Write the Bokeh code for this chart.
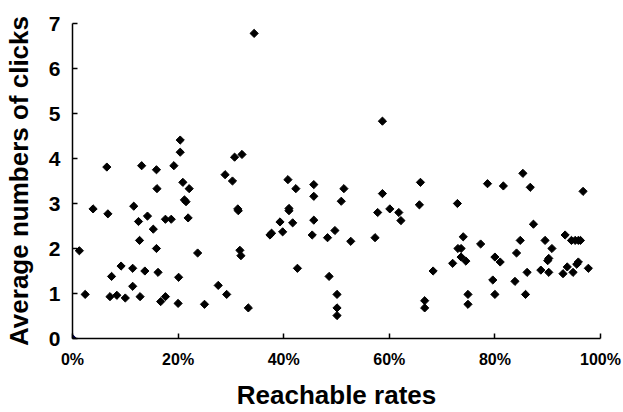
import numpy as np
from bokeh.plotting import figure
from bokeh.models import Range1d, FixedTicker, ColumnDataSource
from bokeh.embed import file_html
from bokeh.resources import INLINE

# Reachable rate (%) and average number of clicks
reach = [
    0.0, 1.3, 2.4, 3.9, 6.5, 6.7, 7.1, 7.4, 8.4, 9.2, 10.0, 11.4, 11.4, 11.6,
    12.5, 12.7, 12.8, 13.1, 13.7, 14.2, 15.3, 15.9, 15.9, 16.0, 16.2, 16.7,
    17.6, 17.6, 18.7, 19.2, 20.0, 20.1, 20.4, 20.4, 20.9, 21.2, 21.5, 21.9,
    22.1, 23.7, 25.0, 27.6, 28.9, 29.2, 30.3, 30.7, 31.3, 31.4, 31.7, 31.9,
    32.1, 33.3, 34.4, 37.4, 37.7, 39.3, 39.8, 40.8, 41.0, 41.0, 41.7, 42.3,
    42.6, 45.4, 45.7, 45.7, 45.7, 48.3, 48.6, 49.7, 50.1, 50.1, 50.1, 50.9,
    51.4, 52.7, 57.3, 57.8, 58.7, 58.7, 60.1, 61.8, 62.2, 65.7, 65.9, 66.7,
    66.7, 68.3, 72.0, 72.9, 73.0, 73.6, 73.6, 74.0, 74.5, 74.9, 74.9, 77.3,
    78.6, 79.6, 80.0, 80.0, 81.0, 81.6, 83.8, 84.1, 84.8, 85.3, 85.8, 86.1,
    86.7, 87.3, 88.7, 89.5, 90.0, 90.2, 90.2, 90.8, 92.9, 93.3, 93.7, 94.5,
    94.8, 95.2, 95.5, 95.8, 95.8, 96.2, 96.7, 97.7,
]
clicks = [
    0.0, 1.95, 0.98, 2.88, 3.81, 2.77, 0.93, 1.38, 0.96, 1.61, 0.90, 1.56,
    1.16, 2.94, 2.60, 2.18, 0.93, 3.84, 1.50, 2.72, 2.43, 3.75, 2.00, 3.33,
    1.47, 0.82, 2.65, 0.93, 2.65, 3.84, 0.78, 1.36, 4.41, 4.14, 3.47, 3.08,
    3.04, 2.68, 3.33, 1.90, 0.76, 1.18, 3.64, 0.98, 3.50, 4.03, 2.88, 2.84,
    1.96, 1.84, 4.09, 0.68, 6.78, 2.30, 2.34, 2.59, 2.37, 3.53, 2.89, 2.84,
    2.57, 3.33, 1.56, 2.30, 3.42, 3.16, 2.63, 2.24, 1.38, 2.40, 0.98, 0.68,
    0.51, 3.05, 3.33, 2.16, 2.24, 2.80, 3.22, 4.83, 2.88, 2.80, 2.62, 2.97,
    3.47, 0.84, 0.68, 1.50, 1.67, 3.00, 2.00, 2.00, 1.81, 2.26, 1.72, 0.98,
    0.76, 2.10, 3.44, 1.30, 1.81, 0.98, 1.70, 3.39, 1.27, 1.90, 2.18, 3.67,
    0.98, 1.47, 3.36, 2.54, 1.52, 2.18, 1.73, 1.78, 1.47, 2.00, 1.44, 2.30,
    1.59, 2.18, 1.47, 2.18, 1.65, 2.18, 1.70, 2.18, 3.27, 1.56,
]

x_ticks = [0, 20, 40, 60, 80, 100]
x_tick_labels = {0: "0%", 20: "20%", 40: "40%", 60: "60%", 80: "80%", 100: "100%"}
y_ticks = [0, 1, 2, 3, 4, 5, 6, 7]

colors = ["#000050"] + ["black"] * (len(reach) - 1)
src = ColumnDataSource(dict(x=reach, y=clicks, c=colors))

p = figure(width=623, height=412, output_backend="svg",
           toolbar_location=None, x_range=Range1d(0, 100), y_range=Range1d(0, 7),
           min_border_left=68, min_border_top=23, min_border_right=23,
           min_border_bottom=74)
p.outline_line_color = None
p.xgrid.visible = False
p.ygrid.visible = False

p.scatter("x", "y", source=src, marker="square", angle=np.pi / 4, size=5.8,
          fill_color="c", line_color="c")

num_font = "'Liberation Sans Narrow', 'Liberation Sans', Arial, sans-serif"
title_font = "'Liberation Sans', Arial, sans-serif"

for ax in (p.xaxis[0], p.yaxis[0]):
    ax.axis_line_color = "black"
    ax.axis_line_width = 1.5
    ax.major_tick_line_color = "black"
    ax.major_tick_line_width = 1.5
    ax.major_tick_in = 5
    ax.major_tick_out = 0
    ax.minor_tick_line_color = None
    ax.major_label_text_font = num_font
    ax.major_label_text_font_style = "bold"
    ax.major_label_text_color = "black"
    ax.axis_label_text_font = title_font
    ax.axis_label_text_font_style = "bold"
    ax.axis_label_text_color = "black"
    ax.axis_label_text_font_size = "26px"

p.xaxis.ticker = FixedTicker(ticks=x_ticks)
p.xaxis.major_label_overrides = x_tick_labels
p.xaxis.major_label_text_font_size = "16px"
p.xaxis.major_label_standoff = 12
p.xaxis.axis_label = "Reachable rates"
p.xaxis.axis_label_standoff = 9

p.yaxis.ticker = FixedTicker(ticks=y_ticks)
p.yaxis.major_label_text_font_size = "21px"
p.yaxis.major_label_standoff = 12
p.yaxis.axis_label = "Average numbers of clicks"
p.yaxis.axis_label_standoff = 12

html = file_html(p, INLINE)
html = html.replace("<head>", "<head><style>html,body{overflow:hidden}</style>", 1)
open("out.html", "w").write(html)
